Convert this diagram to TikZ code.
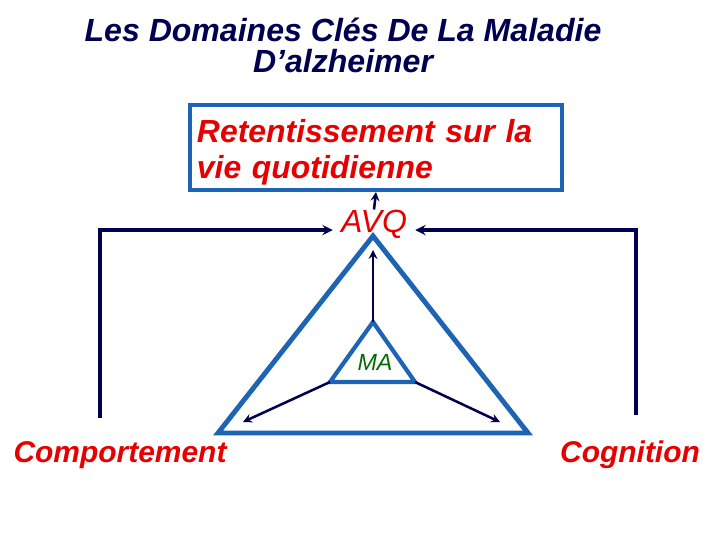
\documentclass[tikz,border=0pt]{standalone}
\usepackage{fontspec}
\setmainfont{Liberation Sans}
\definecolor{slideblue}{RGB}{30,100,180}
\definecolor{navy}{RGB}{0,0,80}
\definecolor{alertred}{RGB}{230,0,0}
\definecolor{magreen}{RGB}{0,110,0}
\begin{document}
\begin{tikzpicture}[x=0.025cm, y=-0.025cm]
    % Define styles
    \tikzstyle{title} = [text=navy, font=\fontsize{22.8}{22}\selectfont\bfseries\itshape, align=center, inner sep=0pt]
    \tikzstyle{label} = [text=alertred, font=\fontsize{21.3}{22}\selectfont\bfseries\itshape, inner sep=1pt]
    \tikzstyle{impactbox} = [rectangle, draw=slideblue, line width=2.8pt, minimum width=9.3cm, minimum height=2.125cm, text width=8.95cm, inner xsep=0.175cm, inner ysep=0pt, align=left, text=alertred, font=\fontsize{22.7}{25.6}\selectfont\bfseries\itshape]
    \tikzstyle{tri} = [draw=slideblue, line width=3.5pt, line join=miter]
    \tikzstyle{arrow} = [->, >=stealth, draw=navy, line width=1.8pt]
    \tikzstyle{bracket} = [->, >=stealth, draw=navy, line width=2.2pt]

    \useasboundingbox (0,0) rectangle (720,540);

    % Place nodes
    \node (heading) [title] at (343,45) {Les Domaines Clés De La Maladie\\D’alzheimer};
    \node (impact) [impactbox] at (376,147.5) {\rule{0pt}{23.5pt}Retentissement sur la vie quotidienne};
    \node (avq) [label, font=\fontsize{22.8}{22}\selectfont\itshape, inner xsep=0.2cm, inner ysep=0pt] at (374,224) {AVQ};
    \node (comport) [label] at (120,455) {Comportement};
    \node (cognit) [label] at (630,455) {Cognition};
    \node (ma) [text=magreen, font=\fontsize{16.6}{18}\selectfont\itshape] at (375,362) {MA};

    % Triangles
    \coordinate (top) at (373,236);
    \coordinate (bl) at (218,433);
    \coordinate (br) at (528,433);
    \coordinate (mtop) at (373,322);
    \coordinate (mleft) at (330,382);
    \coordinate (mright) at (415,382);
    \draw [tri] (top) -- (bl) -- (br) -- cycle;
    \draw [tri, line width=3pt] (mtop) -- (mleft) -- (mright) -- cycle;

    % Arrows from MA
    \coordinate (uptip) at (373,250);
    \coordinate (lefttip) at (243,422);
    \coordinate (righttip) at (500,422);
    \draw [arrow] (mtop) -- (uptip);
    \draw [arrow] (mleft) -- (lefttip);
    \draw [arrow] (mright) -- (righttip);

    % Arrows to AVQ
    \coordinate (leftfoot) at (100,418);
    \coordinate (rightfoot) at (636,415);
    \draw [bracket] (leftfoot) |- ([yshift=-0.15cm]avq.west);
    \draw [bracket] (rightfoot) |- ([yshift=-0.15cm]avq.east);
    \draw [arrow] (avq.north) -- (impact.south);
\end{tikzpicture}
\end{document}
